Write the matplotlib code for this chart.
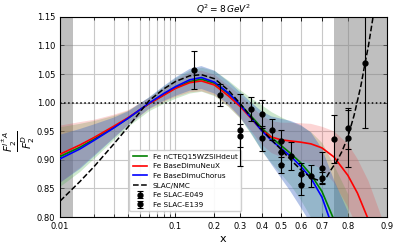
import matplotlib
matplotlib.use("Agg")
import matplotlib.pyplot as plt
import numpy as np
from matplotlib.ticker import FixedLocator, FixedFormatter, NullFormatter

# model curves
x_bg = [0.01, 0.015, 0.02, 0.03, 0.04, 0.06, 0.08, 0.1, 0.13, 0.16, 0.2, 0.25,
        0.3, 0.35, 0.4, 0.45, 0.5, 0.55, 0.6, 0.65, 0.7, 0.75, 0.8]
green_y = [0.906, 0.922, 0.936, 0.957, 0.973, 0.998, 1.014, 1.026, 1.037, 1.041, 1.034, 1.016,
           0.997, 0.976, 0.956, 0.939, 0.925, 0.911, 0.895, 0.874, 0.845, 0.795, 0.74]
green_err = [0.052, 0.042, 0.033, 0.021, 0.014, 0.012, 0.015, 0.018, 0.020, 0.021, 0.022, 0.023,
             0.025, 0.032, 0.040, 0.045, 0.050, 0.056, 0.065, 0.075, 0.085, 0.095, 0.10]
blue_y = [0.902, 0.919, 0.934, 0.956, 0.973, 0.999, 1.016, 1.028, 1.040, 1.044, 1.036, 1.017,
          0.996, 0.973, 0.951, 0.934, 0.920, 0.906, 0.889, 0.868, 0.835, 0.775, 0.72]
blue_err = [0.042, 0.035, 0.028, 0.018, 0.012, 0.010, 0.013, 0.016, 0.019, 0.020, 0.020, 0.020,
            0.022, 0.027, 0.034, 0.042, 0.052, 0.062, 0.072, 0.080, 0.085, 0.090, 0.090]

x_red = [0.01, 0.015, 0.02, 0.03, 0.04, 0.06, 0.08, 0.1, 0.13, 0.16, 0.2, 0.25,
         0.3, 0.35, 0.4, 0.45, 0.5, 0.55, 0.6, 0.65, 0.7, 0.75, 0.8, 0.83, 0.86, 0.9]
red_y = [0.910, 0.926, 0.939, 0.959, 0.974, 0.998, 1.013, 1.025, 1.035, 1.038, 1.031, 1.012,
         0.993, 0.972, 0.952, 0.940, 0.935, 0.933, 0.931, 0.928, 0.921, 0.905, 0.873, 0.842, 0.795, 0.70]
red_err = [0.050, 0.040, 0.031, 0.020, 0.013, 0.010, 0.012, 0.015, 0.017, 0.018, 0.018, 0.018,
           0.020, 0.022, 0.025, 0.028, 0.030, 0.032, 0.033, 0.035, 0.037, 0.045, 0.055, 0.060, 0.068, 0.075]

x_slac = [0.01, 0.015, 0.02, 0.03, 0.04, 0.06, 0.08, 0.1, 0.13, 0.16, 0.2, 0.25, 0.3, 0.35,
          0.4, 0.45, 0.5, 0.55, 0.6, 0.65, 0.7, 0.72, 0.74, 0.76, 0.78, 0.8, 0.82, 0.84,
          0.85, 0.86, 0.87, 0.88]
slac_y = [0.828, 0.862, 0.888, 0.928, 0.958, 1.003, 1.024, 1.037, 1.047, 1.049, 1.042, 1.022,
          0.998, 0.974, 0.953, 0.935, 0.918, 0.900, 0.883, 0.869, 0.862, 0.870, 0.884, 0.897,
          0.915, 0.940, 0.978, 1.030, 1.065, 1.100, 1.145, 1.20]

# data points
e049_x = [0.3, 0.4, 0.5, 0.5, 0.6, 0.7, 0.8]
e049_y = [0.952, 0.938, 0.933, 0.891, 0.856, 0.869, 0.938]
e049_err = [0.063, 0.022, 0.020, 0.014, 0.018, 0.010, 0.050]

e139_x = [0.14, 0.22, 0.3, 0.35, 0.4, 0.45, 0.5, 0.55, 0.6, 0.65, 0.7, 0.75, 0.8, 0.85]
e139_y = [1.057, 1.013, 0.942, 0.989, 0.980, 0.953, 0.913, 0.907, 0.876, 0.872, 0.886, 0.937, 0.955, 1.069]
e139_err = [0.033, 0.019, 0.020, 0.021, 0.025, 0.019, 0.020, 0.024, 0.018, 0.019, 0.028, 0.042, 0.036, 0.114]

x_ticks = [0.01, 0.1, 0.2, 0.3, 0.4, 0.5, 0.6, 0.7, 0.8, 0.9]
x_ticklabels = ["0.01", "0.1", "0.2", "0.3", "0.4", "0.5", "0.6", "0.7", "0.8", "0.9"]
x_minor = [0.02, 0.03, 0.04, 0.05, 0.06, 0.07, 0.08, 0.09]
y_ticks = [0.80, 0.85, 0.90, 0.95, 1.00, 1.05, 1.10, 1.15]


def band(ax, x, y, err, color, alpha):
    y = np.array(y)
    err = np.array(err)
    ax.fill_between(x, y - err, y + err, color=color, alpha=alpha, lw=0, zorder=2)


def main():
    fig = plt.figure(figsize=(3.98, 2.45), dpi=100)
    ax = fig.add_axes([0.151, 0.114, 0.821, 0.817])
    ax.set_xscale("logit")

    ax.axvspan(0.01, 0.013, color="gray", alpha=0.5, lw=0, zorder=1)
    ax.axvspan(0.75, 0.9, color="gray", alpha=0.5, lw=0, zorder=1)

    band(ax, x_bg, green_y, green_err, "#4caf50", 0.28)
    band(ax, x_red, red_y, red_err, "#f03030", 0.2)
    band(ax, x_bg, blue_y, blue_err, "#3a66c4", 0.38)

    ax.plot(x_bg, green_y, color="green", lw=1.2, label="Fe nCTEQ15WZSIHdeut", zorder=4)
    ax.plot(x_red, red_y, color="red", lw=1.2, label="Fe BaseDimuNeuX", zorder=4)
    ax.plot(x_bg, blue_y, color="blue", lw=1.2, label="Fe BaseDimuChorus", zorder=4)
    ax.plot(x_slac, slac_y, "k--", lw=1.1, label="SLAC/NMC", zorder=5)

    ax.errorbar(e049_x, e049_y, yerr=e049_err, fmt="o", color="k", ms=3.5,
                elinewidth=0.8, capsize=2, capthick=0.8, label="Fe SLAC-E049", zorder=6)
    ax.errorbar(e139_x, e139_y, yerr=e139_err, fmt="o", color="k", ms=3.5,
                elinewidth=0.8, capsize=2, capthick=0.8, label="Fe SLAC-E139", zorder=6)

    ax.axhline(1.0, color="k", ls=":", lw=1.1, zorder=3)

    ax.set_xlim(0.01, 0.9)
    ax.set_ylim(0.80, 1.15)
    ax.xaxis.set_major_locator(FixedLocator(x_ticks))
    ax.xaxis.set_major_formatter(FixedFormatter(x_ticklabels))
    ax.xaxis.set_minor_locator(FixedLocator(x_minor))
    ax.xaxis.set_minor_formatter(NullFormatter())
    ax.set_yticks(y_ticks)
    ax.set_yticklabels([f"{v:.2f}" for v in y_ticks])

    ax.tick_params(which="both", direction="in", top=True, right=True, labelsize=6)
    ax.tick_params(which="major", length=3, width=0.6)
    ax.tick_params(which="minor", length=2, width=0.5)
    ax.set_axisbelow(True)
    ax.grid(True, which="major", color="#c8c8c8", lw=0.8)
    ax.grid(True, which="minor", axis="x", color="#c8c8c8", lw=0.8)

    ax.set_xlabel("x", fontsize=8, labelpad=2)
    ax.set_ylabel(r"$\frac{F_2^{l^{\pm}A}}{F_2^D}$", fontsize=11)
    ax.yaxis.set_label_coords(-0.07, 0.38)
    ax.set_title(r"$Q^2 = 8\,GeV^2$", fontsize=6.5, pad=3)

    ax.legend(loc="lower left", bbox_to_anchor=(0.2, 0.01), fontsize=5.2,
              labelspacing=0.5, handlelength=2.0, borderpad=0.5, framealpha=0.9)

    fig.savefig("out.png", dpi=100)


if __name__ == "__main__":
    main()
